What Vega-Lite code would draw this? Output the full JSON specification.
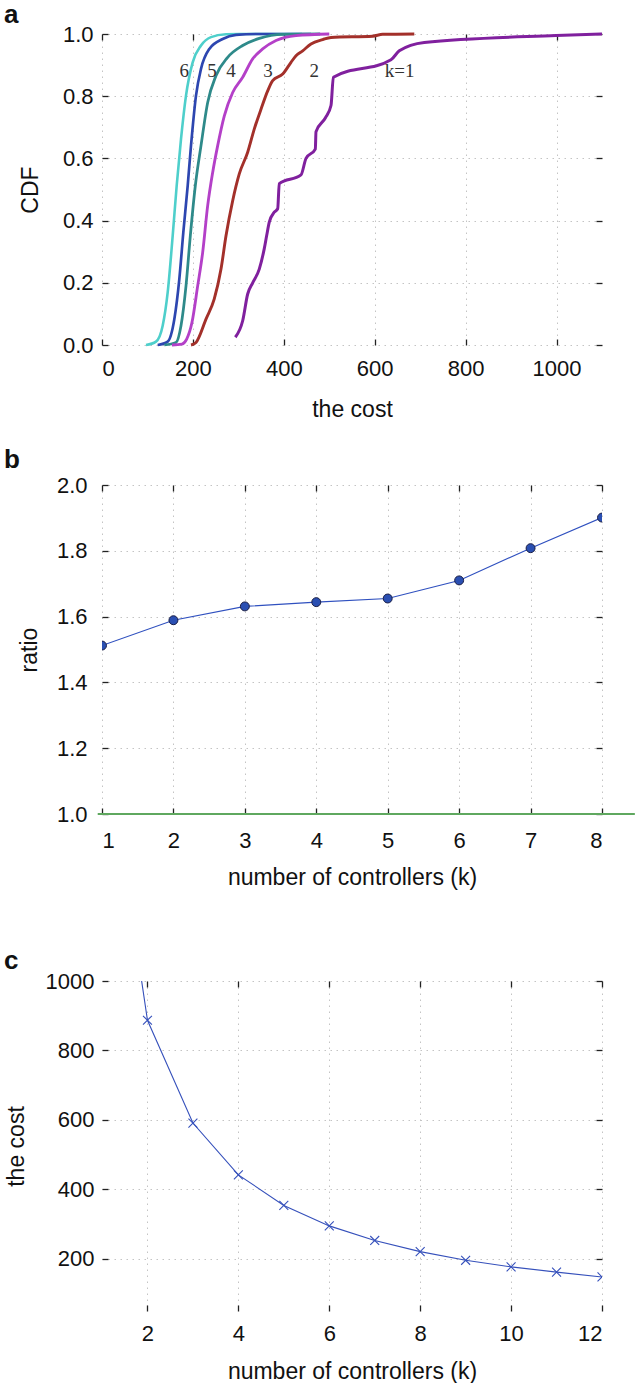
{
  "$schema": "https://vega.github.io/schema/vega-lite/v6.json",
  "background": "white",
  "padding": {"left": 4, "top": 2, "right": 0, "bottom": 0},
  "datasets": {
    "cdf": [
      {"k": "6", "cost": 96.8, "p": 0}, {"k": "6", "cost": 118.8, "p": 0.011}, {"k": "6", "cost": 133.5, "p": 0.062}, {"k": "6", "cost": 144.5, "p": 0.169}, {"k": "6", "cost": 155.5, "p": 0.351}, {"k": "6", "cost": 164.3, "p": 0.512}, {"k": "6", "cost": 173.8, "p": 0.662}, {"k": "6", "cost": 184.8, "p": 0.802}, {"k": "6", "cost": 199.5, "p": 0.909}, {"k": "6", "cost": 217.8, "p": 0.963}, {"k": "6", "cost": 239.8, "p": 0.99}, {"k": "6", "cost": 272.8, "p": 0.999}, {"k": "6", "cost": 302, "p": 1.0}, {"k": "6", "cost": 440, "p": 1.0},
      {"k": "5", "cost": 122.5, "p": 0}, {"k": "5", "cost": 144.5, "p": 0.011}, {"k": "5", "cost": 159.1, "p": 0.083}, {"k": "5", "cost": 170.1, "p": 0.212}, {"k": "5", "cost": 178.9, "p": 0.362}, {"k": "5", "cost": 188.5, "p": 0.512}, {"k": "5", "cost": 195.8, "p": 0.641}, {"k": "5", "cost": 206.8, "p": 0.802}, {"k": "5", "cost": 217.8, "p": 0.888}, {"k": "5", "cost": 236.1, "p": 0.952}, {"k": "5", "cost": 265.5, "p": 0.984}, {"k": "5", "cost": 294.8, "p": 0.997}, {"k": "5", "cost": 338.8, "p": 1.0}, {"k": "5", "cost": 460, "p": 1.0},
      {"k": "4", "cost": 137, "p": 0}, {"k": "4", "cost": 162.8, "p": 0.008}, {"k": "4", "cost": 173.8, "p": 0.062}, {"k": "4", "cost": 184.8, "p": 0.19}, {"k": "4", "cost": 194.3, "p": 0.351}, {"k": "4", "cost": 205.3, "p": 0.512}, {"k": "4", "cost": 217.8, "p": 0.641}, {"k": "4", "cost": 232.5, "p": 0.78}, {"k": "4", "cost": 250.8, "p": 0.866}, {"k": "4", "cost": 276.5, "p": 0.925}, {"k": "4", "cost": 309.5, "p": 0.963}, {"k": "4", "cost": 346.1, "p": 0.986}, {"k": "4", "cost": 397.5, "p": 0.999}, {"k": "4", "cost": 480, "p": 1.0},
      {"k": "3", "cost": 154, "p": 0}, {"k": "3", "cost": 176, "p": 0.003}, {"k": "3", "cost": 186.3, "p": 0.019}, {"k": "3", "cost": 198, "p": 0.073}, {"k": "3", "cost": 210.5, "p": 0.19}, {"k": "3", "cost": 221.5, "p": 0.298}, {"k": "3", "cost": 232.5, "p": 0.448}, {"k": "3", "cost": 243.5, "p": 0.555}, {"k": "3", "cost": 254.5, "p": 0.641}, {"k": "3", "cost": 269.1, "p": 0.737}, {"k": "3", "cost": 287.5, "p": 0.812}, {"k": "3", "cost": 309.5, "p": 0.861}, {"k": "3", "cost": 331.5, "p": 0.92}, {"k": "3", "cost": 353.5, "p": 0.952}, {"k": "3", "cost": 382.8, "p": 0.979}, {"k": "3", "cost": 426.8, "p": 0.995}, {"k": "3", "cost": 500, "p": 1.0},
      {"k": "2", "cost": 195.8, "p": 0}, {"k": "2", "cost": 206.8, "p": 0.008}, {"k": "2", "cost": 228.8, "p": 0.083}, {"k": "2", "cost": 247, "p": 0.148}, {"k": "2", "cost": 261.8, "p": 0.244}, {"k": "2", "cost": 272.8, "p": 0.351}, {"k": "2", "cost": 287.5, "p": 0.464}, {"k": "2", "cost": 302, "p": 0.55}, {"k": "2", "cost": 320.5, "p": 0.62}, {"k": "2", "cost": 335.1, "p": 0.695}, {"k": "2", "cost": 349.8, "p": 0.758}, {"k": "2", "cost": 364.5, "p": 0.817}, {"k": "2", "cost": 375.5, "p": 0.85}, {"k": "2", "cost": 397.5, "p": 0.871}, {"k": "2", "cost": 415.8, "p": 0.909}, {"k": "2", "cost": 426.8, "p": 0.93}, {"k": "2", "cost": 441.5, "p": 0.946}, {"k": "2", "cost": 459.8, "p": 0.968}, {"k": "2", "cost": 485.5, "p": 0.982}, {"k": "2", "cost": 503.8, "p": 0.989}, {"k": "2", "cost": 595.5, "p": 0.993}, {"k": "2", "cost": 617.5, "p": 0.999}, {"k": "2", "cost": 687, "p": 1.0},
      {"k": "1", "cost": 293.3, "p": 0.025}, {"k": "1", "cost": 309.5, "p": 0.078}, {"k": "1", "cost": 320.5, "p": 0.164}, {"k": "1", "cost": 331.5, "p": 0.2}, {"k": "1", "cost": 346, "p": 0.244}, {"k": "1", "cost": 357, "p": 0.31}, {"k": "1", "cost": 362.3, "p": 0.352}, {"k": "1", "cost": 368, "p": 0.395}, {"k": "1", "cost": 379, "p": 0.427}, {"k": "1", "cost": 386.5, "p": 0.438}, {"k": "1", "cost": 390, "p": 0.519}, {"k": "1", "cost": 437.8, "p": 0.547}, {"k": "1", "cost": 448.8, "p": 0.6}, {"k": "1", "cost": 469.3, "p": 0.63}, {"k": "1", "cost": 470.8, "p": 0.686}, {"k": "1", "cost": 491.3, "p": 0.73}, {"k": "1", "cost": 503.8, "p": 0.77}, {"k": "1", "cost": 509, "p": 0.861}, {"k": "1", "cost": 635.8, "p": 0.917}, {"k": "1", "cost": 654, "p": 0.946}, {"k": "1", "cost": 709, "p": 0.973}, {"k": "1", "cost": 999, "p": 0.995}, {"k": "1", "cost": 1100, "p": 1.0}
    ],
    "cdflabels": [
      {"t": "6", "cost": 181, "p": 0.882}, {"t": "5", "cost": 242, "p": 0.882}, {"t": "4", "cost": 284, "p": 0.882}, {"t": "3", "cost": 365, "p": 0.882}, {"t": "2", "cost": 467, "p": 0.882}, {"t": "k=1", "cost": 655, "p": 0.882}
    ],
    "ratio": [
      {"k": 1, "ratio": 1.512}, {"k": 2, "ratio": 1.589}, {"k": 3, "ratio": 1.631}, {"k": 4, "ratio": 1.644}, {"k": 5, "ratio": 1.655}, {"k": 6, "ratio": 1.71}, {"k": 7, "ratio": 1.808}, {"k": 8, "ratio": 1.901}
    ],
    "baseline": [{"ratio": 1, "from": 0.94, "to": 8.46}],
    "costk": [
      {"k": 1, "cost": 1770}, {"k": 2, "cost": 887}, {"k": 3, "cost": 591}, {"k": 4, "cost": 442}, {"k": 5, "cost": 354}, {"k": 6, "cost": 295}, {"k": 7, "cost": 253}, {"k": 8, "cost": 221}, {"k": 9, "cost": 196}, {"k": 10, "cost": 177}, {"k": 11, "cost": 162}, {"k": 12, "cost": 148}
    ]
  },
  "vconcat": [
    {
      "width": 500, "height": 311,
      "title": {"text": "a", "anchor": "start", "frame": "group", "dx": -98, "offset": -5, "fontSize": 26, "fontWeight": "bold", "font": "Liberation Sans", "color": "#111"},
      "layer": [
        {
          "data": {"name": "cdf"},
          "mark": {"type": "line", "interpolate": "monotone"},
          "encoding": {
            "x": {"field": "cost", "type": "quantitative", "scale": {"domain": [0, 1100], "nice": false, "zero": false}, "axis": {"values": [0, 200, 400, 600, 800, 1000], "format": "d", "title": "the cost", "labelPadding": 19, "titlePadding": 19, "grid": true}},
            "y": {"field": "p", "type": "quantitative", "scale": {"domain": [0, 1], "nice": false}, "axis": {"values": [0, 0.2, 0.4, 0.6, 0.8, 1], "format": ".1f", "title": "CDF", "labelPadding": 15, "titlePadding": 20, "grid": true}},
            "color": {"field": "k", "type": "nominal", "scale": {"domain": ["1", "2", "3", "4", "5", "6"], "range": ["#80209e", "#a3302a", "#b440c8", "#2e8a8a", "#2d46b0", "#4ecfcb"]}, "legend": null},
            "strokeWidth": {"field": "k", "type": "nominal", "scale": {"domain": ["1", "2", "3", "4", "5", "6"], "range": [3, 2.6, 2.6, 2.6, 2.6, 2.6]}, "legend": null}
          }
        },
        {
          "data": {"name": "cdflabels"},
          "mark": {"type": "text", "font": "Liberation Serif", "fontSize": 19, "color": "#333", "align": "center", "baseline": "middle"},
          "encoding": {
            "x": {"field": "cost", "type": "quantitative", "scale": {"domain": [0, 1100], "nice": false, "zero": false}, "axis": null},
            "y": {"field": "p", "type": "quantitative", "scale": {"domain": [0, 1], "nice": false}, "axis": null},
            "text": {"field": "t"}
          }
        },
        {
          "data": {"name": "cdf"},
          "mark": {"type": "point", "opacity": 0, "clip": true},
          "encoding": {
            "x": {"field": "cost", "type": "quantitative", "scale": {"domain": [0, 1100], "nice": false, "zero": false}, "axis": {"orient": "top", "values": [0, 200, 400, 600, 800, 1000], "labels": false, "grid": false, "title": null, "minExtent": 0}},
            "y": {"field": "p", "type": "quantitative", "scale": {"domain": [0, 1], "nice": false}, "axis": {"orient": "right", "values": [0, 0.2, 0.4, 0.6, 0.8, 1], "labels": false, "grid": false, "title": null, "minExtent": 0}}
          }
        }
      ],
      "resolve": {"axis": {"x": "independent", "y": "independent"}}
    },
    {
      "spacing": 59,
      "vconcat": [
        {
          "width": 500, "height": 329,
          "title": {"text": "b", "anchor": "start", "frame": "group", "dx": -98, "offset": 1, "fontSize": 26, "fontWeight": "bold", "font": "Liberation Sans", "color": "#111"},
          "layer": [
            {
              "data": {"name": "ratio"},
              "mark": {"type": "line", "color": "#2f50bf", "strokeWidth": 1.1, "clip": true},
              "encoding": {
                "x": {"field": "k", "type": "quantitative", "scale": {"domain": [1, 8], "nice": false, "zero": false}, "axis": {"values": [1, 2, 3, 4, 5, 6, 7, 8], "title": "number of controllers (k)", "labelPadding": 22, "titlePadding": 15, "grid": true}},
                "y": {"field": "ratio", "type": "quantitative", "scale": {"domain": [1, 2], "nice": false, "zero": false}, "axis": {"values": [1, 1.2, 1.4, 1.6, 1.8, 2], "format": ".1f", "title": "ratio", "labelPadding": 21, "titlePadding": 15, "grid": true}}
              }
            },
            {
              "data": {"name": "ratio"},
              "mark": {"type": "point", "filled": true, "fill": "#2a4fb2", "stroke": "#1b1f45", "strokeWidth": 1, "size": 80, "opacity": 1, "clip": true},
              "encoding": {
                "x": {"field": "k", "type": "quantitative", "scale": {"domain": [1, 8], "nice": false, "zero": false}, "axis": null},
                "y": {"field": "ratio", "type": "quantitative", "scale": {"domain": [1, 2], "nice": false, "zero": false}, "axis": null}
              }
            },
            {
              "data": {"name": "baseline"},
              "mark": {"type": "rule", "color": "#5fa85f", "strokeWidth": 2, "clip": false},
              "encoding": {
                "x": {"field": "from", "type": "quantitative", "scale": {"domain": [1, 8], "nice": false, "zero": false}, "axis": null},
                "x2": {"field": "to"},
                "y": {"field": "ratio", "type": "quantitative", "scale": {"domain": [1, 2], "nice": false, "zero": false}, "axis": null}
              }
            },
            {
              "data": {"name": "ratio"},
              "mark": {"type": "point", "opacity": 0, "clip": true},
              "encoding": {
                "x": {"field": "k", "type": "quantitative", "scale": {"domain": [1, 8], "nice": false, "zero": false}, "axis": {"orient": "top", "values": [1, 2, 3, 4, 5, 6, 7, 8], "labels": false, "grid": false, "title": null, "minExtent": 0}},
                "y": {"field": "ratio", "type": "quantitative", "scale": {"domain": [1, 2], "nice": false, "zero": false}, "axis": {"orient": "right", "values": [1, 1.2, 1.4, 1.6, 1.8, 2], "labels": false, "grid": false, "title": null, "minExtent": 0}}
              }
            }
          ],
          "resolve": {"axis": {"x": "independent", "y": "independent"}}
        },
        {
          "width": 500, "height": 330,
          "title": {"text": "c", "anchor": "start", "frame": "group", "dx": -98, "offset": -4, "fontSize": 26, "fontWeight": "bold", "font": "Liberation Sans", "color": "#111"},
          "layer": [
            {
              "data": {"name": "costk"},
              "mark": {"type": "line", "color": "#3550bb", "strokeWidth": 1.1, "clip": true},
              "encoding": {
                "x": {"field": "k", "type": "quantitative", "scale": {"domain": [1, 12], "nice": false, "zero": false}, "axis": {"values": [2, 4, 6, 8, 10, 12], "title": "number of controllers (k)", "labelPadding": 18, "titlePadding": 16, "grid": true}},
                "y": {"field": "cost", "type": "quantitative", "scale": {"domain": [50, 1000], "nice": false, "zero": false}, "axis": {"values": [200, 400, 600, 800, 1000], "format": "d", "title": "the cost", "labelPadding": 14, "titlePadding": 16.5, "grid": true}}
              }
            },
            {
              "data": {"name": "costk"},
              "mark": {"type": "point", "shape": "M-1,-1L1,1M-1,1L1,-1", "filled": false, "stroke": "#3550bb", "strokeWidth": 1.1, "size": 80, "opacity": 1, "clip": true},
              "encoding": {
                "x": {"field": "k", "type": "quantitative", "scale": {"domain": [1, 12], "nice": false, "zero": false}, "axis": null},
                "y": {"field": "cost", "type": "quantitative", "scale": {"domain": [50, 1000], "nice": false, "zero": false}, "axis": null}
              }
            },
            {
              "data": {"name": "costk"},
              "mark": {"type": "point", "opacity": 0, "clip": true},
              "encoding": {
                "x": {"field": "k", "type": "quantitative", "scale": {"domain": [1, 12], "nice": false, "zero": false}, "axis": {"orient": "top", "values": [2, 4, 6, 8, 10, 12], "labels": false, "grid": false, "title": null, "minExtent": 0}},
                "y": {"field": "cost", "type": "quantitative", "scale": {"domain": [50, 1000], "nice": false, "zero": false}, "axis": {"orient": "right", "values": [200, 400, 600, 800, 1000], "labels": false, "grid": false, "title": null, "minExtent": 0}}
              }
            }
          ],
          "resolve": {"axis": {"x": "independent", "y": "independent"}}
        }
      ]
    }
  ],
  "spacing": 26,
  "config": {
    "view": {"stroke": null},
    "axis": {
      "domain": false,
      "tickSize": -6,
      "tickColor": "#222",
      "tickWidth": 1.3,
      "gridColor": "#c4c4c4",
      "gridDash": [1.5, 4.5],
      "gridWidth": 1,
      "labelFont": "Liberation Sans",
      "labelFontSize": 22,
      "labelColor": "#111",
      "titleFont": "Liberation Sans",
      "titleFontSize": 23,
      "titleFontWeight": "normal",
      "titleColor": "#111"
    }
  }
}
